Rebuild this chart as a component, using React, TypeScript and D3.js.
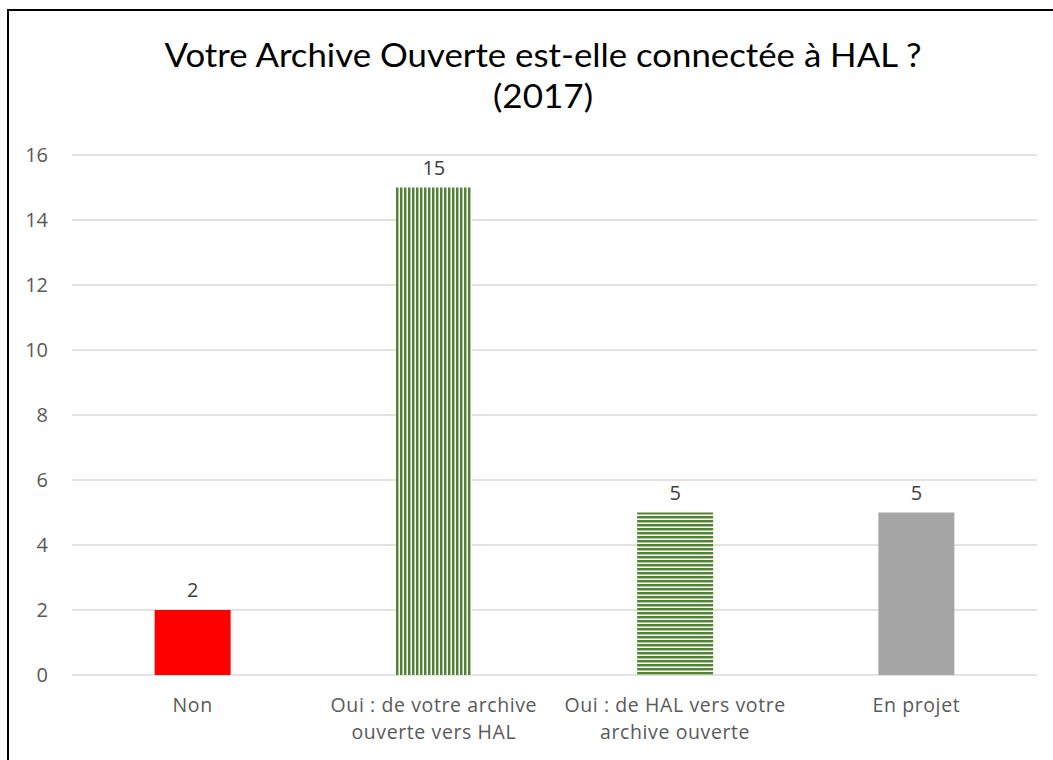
import React from "react";
import * as d3 from "d3";

const categories: string[][] = [
  ["Non"],
  ["Oui : de votre archive", "ouverte vers HAL"],
  ["Oui : de HAL vers votre", "archive ouverte"],
  ["En projet"],
];
const values: number[] = [2, 15, 5, 5];
const fills: string[] = ["#FF0000", "url(#vstripe)", "url(#hstripe)", "#A5A5A5"];
const yTicks: number[] = [0, 2, 4, 6, 8, 10, 12, 14, 16];
const titleLines: string[] = ["Votre Archive Ouverte est-elle connectée à HAL ?", "(2017)"];
const titleWidths: number[] = [757, 100];

const W = 1053;
const H = 760;
const plot = { left: 72, right: 1037, top: 155, bottom: 675 };

export default function App() {
  const x = d3
    .scaleBand<number>()
    .domain(d3.range(categories.length))
    .range([plot.left, plot.right])
    .paddingInner(0.685)
    .paddingOuter(0.3425);
  const y = d3.scaleLinear().domain([0, 16]).range([plot.bottom, plot.top]);
  const font = "'Open Sans', 'DejaVu Sans', sans-serif";

  return (
    <div style={{ position: "absolute", left: 0, top: 0 }}>
      <svg width={W} height={H} style={{ display: "block", background: "#fff" }}>
        <defs>
          <pattern id="vstripe" patternUnits="userSpaceOnUse" width={4} height={4}>
            <rect width={4} height={4} fill="#ffffff" />
            <rect x={0} width={2} height={4} fill="#548235" />
            <rect x={2} width={1} height={4} fill="#A9C49A" />
          </pattern>
          <pattern id="hstripe" patternUnits="userSpaceOnUse" width={4} height={4}>
            <rect width={4} height={4} fill="#ffffff" />
            <rect y={0} width={4} height={2} fill="#548235" />
            <rect y={2} width={4} height={1} fill="#A9C49A" />
          </pattern>
        </defs>
        <rect x={8} y={10} width={W + 20} height={H + 20} fill="#fff" stroke="#000" strokeWidth={2} />

        {titleLines.map((t, i) => (
          <text
            key={i}
            x={543}
            y={67 + i * 41}
            textAnchor="middle"
            fontFamily="Lato, 'Liberation Sans', sans-serif"
            fontSize={32}
            fill="#000"
            textLength={titleWidths[i]}
            lengthAdjust="spacingAndGlyphs"
          >
            {t}
          </text>
        ))}

        {yTicks.map((t) => (
          <g key={t}>
            <line x1={plot.left} x2={plot.right} y1={y(t)} y2={y(t)} stroke="#D9D9D9" strokeWidth={1.5} />
            <text
              x={48}
              y={y(t)}
              dy="0.35em"
              textAnchor="end"
              fontFamily={font}
              fontSize={20}
              fill="#595959"
            >
              {t}
            </text>
          </g>
        ))}

        {values.map((v, i) => (
          <g key={i}>
            <rect
              x={x(i)}
              y={y(v)}
              width={x.bandwidth()}
              height={y(0) - y(v)}
              fill={fills[i]}
            />
            <text
              x={(x(i) as number) + x.bandwidth() / 2}
              y={y(v) - 13}
              textAnchor="middle"
              fontFamily={font}
              fontSize={20}
              fill="#404040"
            >
              {v}
            </text>
            {categories[i].map((line, j) => (
              <text
                key={j}
                x={(x(i) as number) + x.bandwidth() / 2}
                y={712 + j * 27}
                textAnchor="middle"
                fontFamily={font}
                fontSize={19.5}
                letterSpacing={0.6}
                fill="#595959"
              >
                {line}
              </text>
            ))}
          </g>
        ))}
      </svg>
    </div>
  );
}
